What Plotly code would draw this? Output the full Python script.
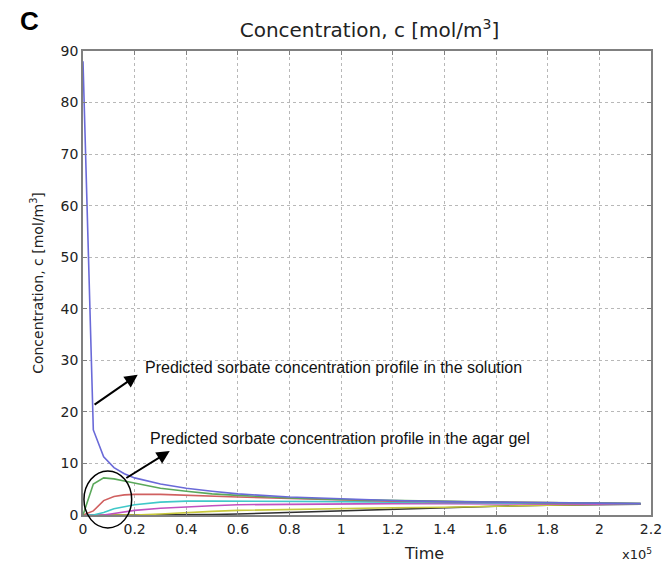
import plotly.graph_objects as go

# Time in units of 1e5 s
time_e5 = [0, 0.04, 0.08, 0.12, 0.16, 0.2, 0.3, 0.4, 0.5, 0.6, 0.8, 1.0, 1.2, 1.4, 1.6, 1.8, 2.0, 2.16]

solution = [88, 16.5, 11.3, 9.2, 8.0, 7.2, 6.0, 5.2, 4.6, 4.1, 3.5, 3.1, 2.8, 2.6, 2.5, 2.4, 2.3, 2.2]
gel_1 = [0, 6.0, 7.2, 7.0, 6.6, 6.2, 5.2, 4.6, 4.1, 3.8, 3.3, 3.0, 2.8, 2.6, 2.5, 2.4, 2.3, 2.2]
gel_2 = [0, 0.8, 2.8, 3.6, 3.9, 4.0, 4.0, 3.8, 3.6, 3.5, 3.2, 2.9, 2.7, 2.6, 2.5, 2.3, 2.3, 2.2]
gel_3 = [0, 0, 0.5, 1.2, 1.6, 2.0, 2.5, 2.7, 2.7, 2.7, 2.6, 2.6, 2.5, 2.4, 2.4, 2.3, 2.3, 2.2]
gel_4 = [0, 0, 0, 0.3, 0.6, 0.9, 1.3, 1.6, 1.8, 2.0, 2.1, 2.2, 2.2, 2.2, 2.2, 2.2, 2.1, 2.1]
gel_5 = [0, 0, 0, 0, 0, 0, 0.2, 0.5, 0.7, 0.9, 1.1, 1.3, 1.4, 1.5, 1.7, 2.0, 2.1, 2.1]
gel_6 = [0, 0, 0, 0, 0, 0, 0, 0.05, 0.1, 0.2, 0.5, 0.9, 1.2, 1.5, 1.7, 1.9, 2.0, 2.1]

series = [
    (gel_6, "#303030"),
    (gel_5, "#c8c83c"),
    (gel_4, "#c050c0"),
    (gel_3, "#40c8c8"),
    (gel_2, "#d06060"),
    (gel_1, "#5aa85a"),
    (solution, "#6a6ad8"),
]

x_ticks = [0, 0.2, 0.4, 0.6, 0.8, 1.0, 1.2, 1.4, 1.6, 1.8, 2.0, 2.2]
x_tick_labels = ["0", "0.2", "0.4", "0.6", "0.8", "1", "1.2", "1.4", "1.6", "1.8", "2", "2.2"]
y_ticks = [0, 10, 20, 30, 40, 50, 60, 70, 80, 90]

fig = go.Figure()
for vals, col in series:
    fig.add_trace(go.Scatter(x=time_e5, y=vals, mode="lines",
                             line=dict(color=col, width=1.6), showlegend=False))

axis_common = dict(
    showline=True, linecolor="#808080", linewidth=1.5, mirror="ticks",
    ticks="inside", ticklen=4, tickcolor="#808080",
    showgrid=True, gridcolor="#b8b8b8", gridwidth=1, griddash="dot",
    zeroline=False, automargin=False,
    tickfont=dict(family="DejaVu Sans", size=14, color="#222"),
)

fig.update_layout(
    width=663, height=565,
    margin=dict(l=83, r=12, t=51, b=50),
    paper_bgcolor="white", plot_bgcolor="white",
    xaxis=dict(range=[0, 2.2001], tickvals=x_ticks, ticktext=x_tick_labels,
               ticklabeloverflow="allow", **axis_common),
    yaxis=dict(range=[0, 90.001], tickvals=y_ticks,
               title=dict(text="Concentration, c [mol/m<sup>3</sup>]", standoff=14,
                          font=dict(family="DejaVu Sans", size=14, color="#222")),
               **axis_common),
    title=dict(text="Concentration, c [mol/m<sup>3</sup>]", x=0.5573, xanchor="center",
               y=0.947, yanchor="middle",
               font=dict(family="DejaVu Sans", size=20, color="#222")),
)

ann_font = dict(family="Liberation Sans, Arial", size=16, color="#111")
fig.add_annotation(text="<b>C</b>", xref="paper", yref="paper", x=-0.095, y=1.065,
                   xanchor="center", yanchor="middle", showarrow=False,
                   font=dict(family="Liberation Sans, Arial", size=26, color="black"))
fig.add_annotation(text="Time", xref="paper", yref="paper", x=0.6, y=-0.083,
                   xanchor="center", yanchor="middle", showarrow=False,
                   font=dict(family="DejaVu Sans", size=16, color="#222"))
fig.add_annotation(text="x10<sup>5</sup>", xref="paper", yref="paper", x=0.975, y=-0.083,
                   xanchor="center", yanchor="middle", showarrow=False,
                   font=dict(family="DejaVu Sans", size=13, color="#222"))

fig.add_annotation(text="Predicted sorbate concentration profile in the solution",
                   x=0.232, y=28.6, xanchor="left", yanchor="middle", showarrow=False, font=ann_font)
fig.add_annotation(text="Predicted sorbate concentration profile in the agar gel",
                   x=0.251, y=14.8, xanchor="left", yanchor="middle", showarrow=False, font=ann_font)

fig.add_annotation(x=0.212, y=27.2, ax=0.039, ay=21.2, axref="x", ayref="y",
                   showarrow=True, arrowhead=2, arrowsize=1.3, arrowwidth=2, arrowcolor="black", text="")
fig.add_annotation(x=0.336, y=12.4, ax=0.162, ay=7.0, axref="x", ayref="y",
                   showarrow=True, arrowhead=2, arrowsize=1.3, arrowwidth=2, arrowcolor="black", text="")

fig.add_shape(type="circle", xref="paper", yref="paper",
              x0=0.0017, x1=0.0857, y0=-0.028, y1=0.095,
              line=dict(color="black", width=1.5))

fig.write_html("out.html")
